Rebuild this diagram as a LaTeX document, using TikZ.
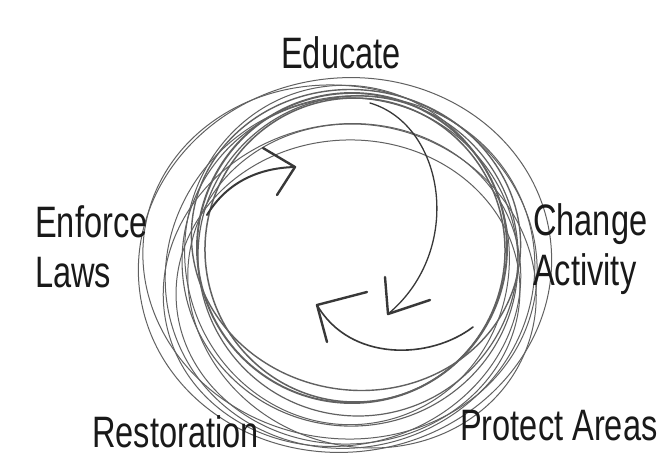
\documentclass[tikz,border=0pt]{standalone}
\usepackage{fontspec}
\setmainfont{Liberation Sans}[FakeStretch=0.74]
\begin{document}
\begin{tikzpicture}[x=1pt,y=-1pt,
  lbl/.style={font=\fontsize{44}{50}\selectfont, text=black!90, inner sep=0pt, anchor=base west},
  ring/.style={draw=black!62, line cap=round},
  pen/.style={draw=black!78, line width=2.4pt, line cap=round, line join=round}]
\useasboundingbox[fill=white] (0,0) rectangle (669,460);
% scribbled loops
\foreach \cx/\cy/\rx/\ry/\rot/\lw in {
  345/265/207/187/8/1.0,
  340/262/198/176/-12/1.0,
  350/272/186/175/20/1.0,
  352/248/155/155/0/1.9,
  355/250/150/152/5/1.5,
  358/256/160/160/-4/1.2,
  350/262/168/164/-8/1.1,
  342/285/180/160/15/1.0,
  362/286/176/160/-20/1.0,
  348/292/172/152/3/1.0,
  356/240/165/150/-10/1.4,
  347/255/162/170/12/1.0}
  \draw[ring, line width=\lw pt, rotate around={\rot:(\cx,\cy)}] (\cx,\cy) ellipse [x radius=\rx pt, y radius=\ry pt];
% arrows
\coordinate (a1s) at (207,215);
\coordinate (a1t) at (295,167);
\draw[pen, line width=2pt] (a1s) .. controls (225,185) and (255,168) .. (a1t);
\draw[pen] (263,148) -- (a1t) -- (277,195);
\coordinate (a2s) at (370,103);
\coordinate (a2t) at (388,314);
\draw[pen, line width=1.3pt] (a2s) .. controls (445,125) and (465,250) .. (a2t);
\draw[pen] (385,277) -- (a2t) -- (430,300);
\coordinate (a3s) at (473,327);
\coordinate (a3t) at (317,305);
\draw[pen, line width=1.6pt] (a3s) .. controls (430,360) and (350,362) .. (a3t);
\draw[pen] (367,292) -- (a3t) -- (327,342);
% labels
\node[lbl, anchor=base] (educate) at (341,68) {Educate};
\node[lbl] (enforce) at (35,237) {Enforce};
\node[lbl] (laws) at (35,287) {Laws};
\node[lbl] (change) at (533,235) {Change};
\node[lbl] (activity) at (533,285) {Activity};
\node[lbl] (restoration) at (92,447) {Restoration};
\node[lbl] (protect) at (460,440) {Protect Areas};
\end{tikzpicture}
\end{document}
